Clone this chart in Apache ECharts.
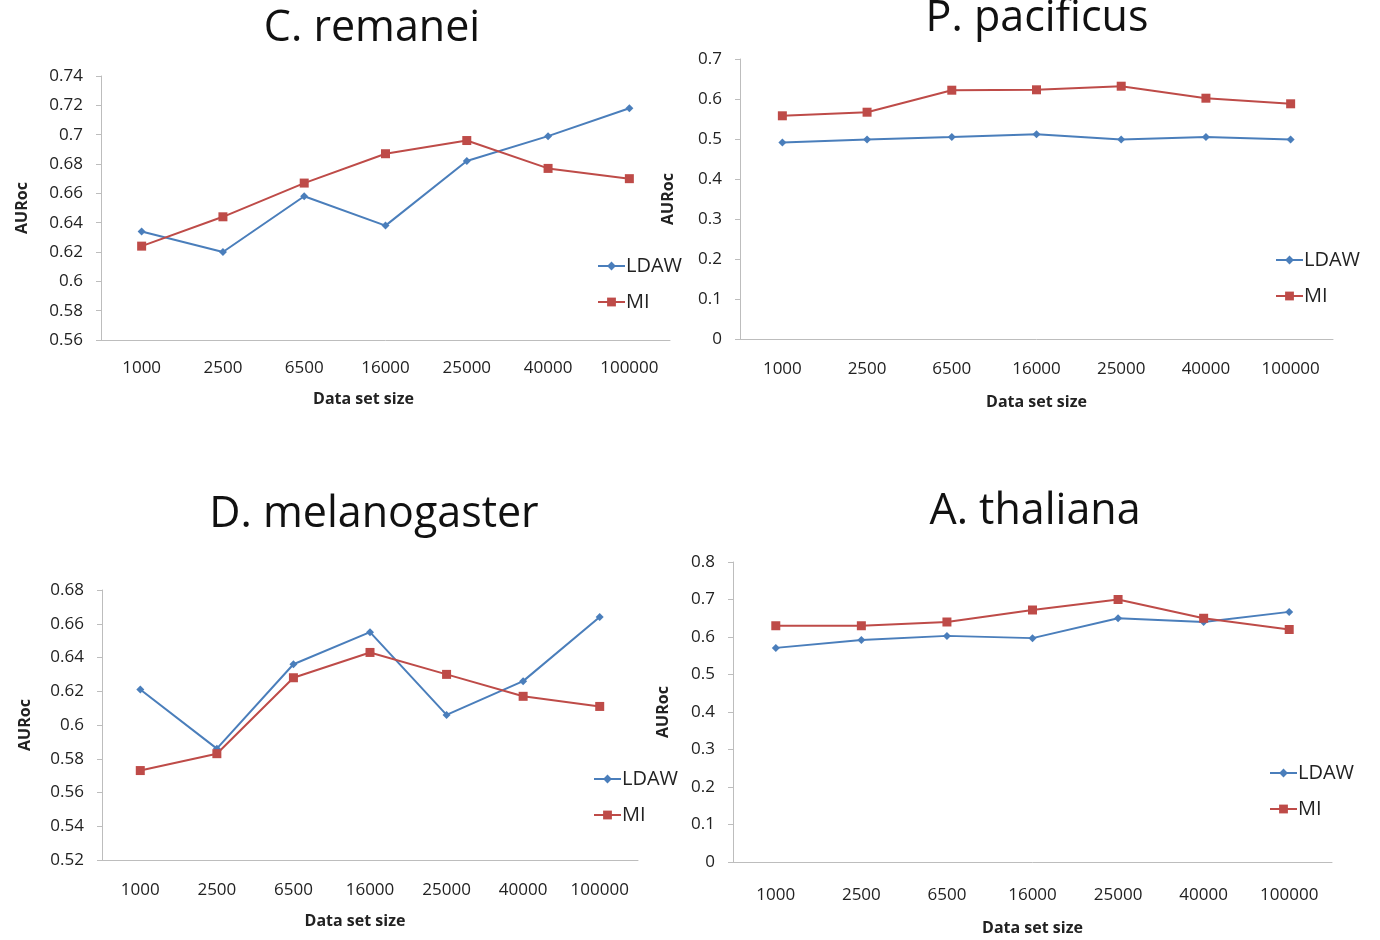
<!DOCTYPE html>
<html>
<head>
<meta charset="utf-8">
<title>AURoc vs data set size</title>
<script src="https://cdn.jsdelivr.net/npm/echarts@6/dist/echarts.min.js"></script>
<style>
  html, body { margin: 0; padding: 0; background: #ffffff; }
  #chart { width: 1380px; height: 940px; }
</style>
</head>
<body>
<div id="chart"></div>
<script>
// Data set sizes on the x axis
const categories = ['1000', '2500', '6500', '16000', '25000', '40000', '100000'];

// AURoc per organism and method
const remaneiLDAW = [0.634, 0.620, 0.658, 0.638, 0.682, 0.699, 0.718];
const remaneiMI   = [0.624, 0.644, 0.667, 0.687, 0.696, 0.677, 0.670];

const pacificusLDAW = [0.491, 0.499, 0.505, 0.512, 0.499, 0.505, 0.499];
const pacificusMI   = [0.558, 0.567, 0.622, 0.623, 0.632, 0.602, 0.588];

const melanogasterLDAW = [0.621, 0.586, 0.636, 0.655, 0.606, 0.626, 0.664];
const melanogasterMI   = [0.573, 0.583, 0.628, 0.643, 0.630, 0.617, 0.611];

const thalianaLDAW = [0.571, 0.592, 0.603, 0.597, 0.650, 0.640, 0.667];
const thalianaMI   = [0.630, 0.630, 0.640, 0.672, 0.700, 0.650, 0.620];

// Panel titles and y-axis tick ranges [min, max, step]
const panelTitles = ['C. remanei', 'P. pacificus', 'D. melanogaster', 'A. thaliana'];
const remaneiTicks = [0.56, 0.74, 0.02];
const pacificusTicks = [0, 0.7, 0.1];
const melanogasterTicks = [0.52, 0.68, 0.02];
const thalianaTicks = [0, 0.8, 0.1];

const seriesNames = ['LDAW', 'MI'];
const xName = 'Data set size';
const yName = 'AURoc';

// Layout of each panel
const panels = [
  { title: panelTitles[0], ticks: remaneiTicks, ldaw: remaneiLDAW, mi: remaneiMI,
    grid: { left: 101, top: 76, width: 569, height: 264 },
    titlePos: [372, 29], yGap: 71, xNameShift: 44, xLabelMargin: 20, xNameGap: 51,
    legend: { left: 597, top: 256 } },
  { title: panelTitles[1], ticks: pacificusTicks, ldaw: pacificusLDAW, mi: pacificusMI,
    grid: { left: 740, top: 59, width: 593, height: 280 },
    titlePos: [1037, 19], yGap: 64, xNameShift: 0, xLabelMargin: 22, xNameGap: 55,
    legend: { left: 1275, top: 250 } },
  { title: panelTitles[2], ticks: melanogasterTicks, ldaw: melanogasterLDAW, mi: melanogasterMI,
    grid: { left: 102, top: 590, width: 536, height: 270 },
    titlePos: [374, 515], yGap: 69, xNameShift: 30, xLabelMargin: 22, xNameGap: 53,
    legend: { left: 593, top: 769 } },
  { title: panelTitles[3], ticks: thalianaTicks, ldaw: thalianaLDAW, mi: thalianaMI,
    grid: { left: 733, top: 562, width: 599, height: 300 },
    titlePos: [1035, 512], yGap: 62, xNameShift: 0, xLabelMargin: 25, xNameGap: 58,
    legend: { left: 1269, top: 763 } }
];

const FONT = '"Open Sans", "Noto Sans", sans-serif';
const BLUE = '#4a7ebb';
const RED = '#be4b48';
const AXIS = '#bdbdbd';

const option = {
  backgroundColor: '#ffffff',
  animation: false,
  textStyle: { fontFamily: FONT },
  grid: [],
  xAxis: [],
  yAxis: [],
  legend: [],
  series: [],
  graphic: []
};

panels.forEach((p, i) => {
  option.grid.push(Object.assign({ containLabel: false }, p.grid));

  option.xAxis.push({
    type: 'category',
    gridIndex: i,
    data: categories,
    boundaryGap: true,
    name: xName,
    nameLocation: 'middle',
    nameGap: p.xNameGap,
    nameTextStyle: {
      fontFamily: FONT, fontSize: 16, fontWeight: 'bold', color: '#222',
      padding: [0, p.xNameShift, 0, 0]
    },
    axisLine: { lineStyle: { color: AXIS, width: 1 } },
    axisTick: { length: 5, lineStyle: { color: AXIS } },
    axisLabel: { interval: 0, margin: p.xLabelMargin, fontFamily: FONT, fontSize: 17, color: '#222' },
    splitLine: { show: false }
  });

  option.yAxis.push({
    type: 'value',
    gridIndex: i,
    min: p.ticks[0],
    max: p.ticks[1],
    interval: p.ticks[2],
    name: yName,
    nameLocation: 'middle',
    nameGap: p.yGap,
    nameRotate: 90,
    nameTextStyle: { fontFamily: FONT, fontSize: 16, fontWeight: 'bold', color: '#222' },
    axisLine: { show: true, lineStyle: { color: AXIS, width: 1 } },
    axisTick: { show: true, length: 5, lineStyle: { color: AXIS } },
    axisLabel: { margin: 18, fontFamily: FONT, fontSize: 17, color: '#222' },
    splitLine: { show: false }
  });

  option.series.push({
    name: seriesNames[0],
    type: 'line',
    xAxisIndex: i,
    yAxisIndex: i,
    data: p.ldaw,
    symbol: 'diamond',
    symbolSize: 8,
    showAllSymbol: true,
    lineStyle: { color: BLUE, width: 2 },
    itemStyle: { color: BLUE }
  });
  option.series.push({
    name: seriesNames[1],
    type: 'line',
    xAxisIndex: i,
    yAxisIndex: i,
    data: p.mi,
    symbol: 'rect',
    symbolSize: 9,
    showAllSymbol: true,
    lineStyle: { color: RED, width: 2 },
    itemStyle: { color: RED }
  });

  option.legend.push({
    data: seriesNames,
    orient: 'vertical',
    left: p.legend.left,
    top: p.legend.top,
    itemWidth: 27,
    itemHeight: 11,
    itemGap: 16,
    padding: 0,
    selectedMode: false,
    textStyle: { fontFamily: FONT, fontSize: 20, color: '#222', padding: [0, 0, 0, -4] }
  });

  option.graphic.push({
    type: 'text',
    x: p.titlePos[0],
    y: p.titlePos[1],
    style: {
      text: p.title,
      font: '43px ' + FONT,
      fill: '#111',
      textAlign: 'center',
      textVerticalAlign: 'middle'
    }
  });
});

const chart = echarts.init(document.getElementById('chart'), null, { renderer: 'canvas' });
chart.setOption(option);
</script>
</body>
</html>
